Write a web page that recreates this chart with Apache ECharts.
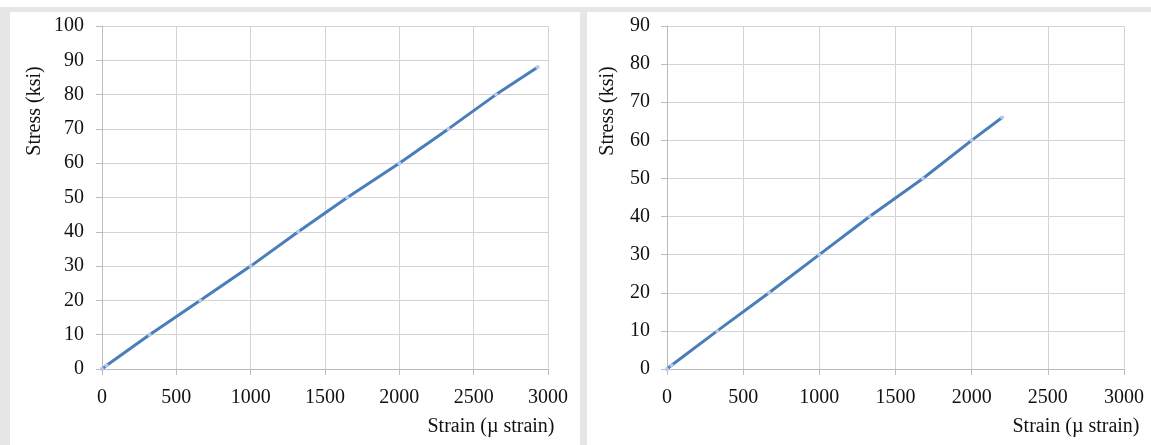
<!DOCTYPE html>
<html>
<head>
<meta charset="utf-8">
<script src="https://cdn.jsdelivr.net/npm/echarts@6/dist/echarts.min.js"></script>
<style>
  html, body { margin: 0; padding: 0; background: #ffffff; }
  #main { width: 1151px; height: 445px; }
</style>
</head>
<body>
<div id="main"></div>
<script>
// left panel: strain (µ strain) vs stress (ksi)
var leftStrain = [0, 30, 320, 660, 1000, 1320, 1650, 2000, 2330, 2650, 2930];
var leftStress = [0, 1, 10, 20, 30, 40, 50, 60, 70, 80, 88];
// right panel
var rightStrain = [0, 30, 330, 670, 1000, 1330, 1680, 2000, 2200];
var rightStress = [0, 1, 10, 20, 30, 40, 50, 60, 66];

var xTicks = { min: 0, max: 3000, interval: 500 };
var leftY = { min: 0, max: 100, interval: 10 };
var rightY = { min: 0, max: 90, interval: 10 };

var xTitle = 'Strain (\u00b5 strain)';
var yTitle = 'Stress (ksi)';

var font = '"Liberation Serif", "Times New Roman", serif';
var textColor = '#111111';
var lineColor = '#4a7ebb';
var gridColor = '#d4d4d4';
var axisColor = '#bcbcbc';
var bandColor = '#e6e6e6';

function pairs(xs, ys) {
	var out = [];
	for (var i = 0; i < xs.length; i++) {
		out.push([xs[i], ys[i]]);
	}
	return out;
}

// plain numbers, no thousands separator
function plain(v) {
	return String(v);
}

function makeX(idx) {
	return {
		gridIndex: idx,
		type: 'value',
		min: xTicks.min,
		max: xTicks.max,
		interval: xTicks.interval,
		axisLine: { show: true, lineStyle: { color: axisColor, width: 1 } },
		axisTick: { show: true, length: 6, lineStyle: { color: axisColor } },
		splitLine: { show: true, lineStyle: { color: gridColor, width: 1 } },
		axisLabel: { margin: 19, color: textColor, fontFamily: font, fontSize: 20, formatter: plain }
	};
}

function makeY(idx, range, gap) {
	return {
		gridIndex: idx,
		type: 'value',
		min: range.min,
		max: range.max,
		interval: range.interval,
		axisLine: { show: true, lineStyle: { color: axisColor, width: 1 } },
		axisTick: { show: true, length: 6, lineStyle: { color: axisColor } },
		splitLine: { show: true, lineStyle: { color: gridColor, width: 1 } },
		axisLabel: { margin: gap, color: textColor, fontFamily: font, fontSize: 20, formatter: plain }
	};
}

function makeSeries(idx, xs, ys) {
	return {
		type: 'line',
		xAxisIndex: idx,
		yAxisIndex: idx,
		data: pairs(xs, ys),
		showSymbol: true,
		symbol: 'circle',
		symbolSize: 4,
		itemStyle: { color: '#b3c9e5' },
		lineStyle: { color: lineColor, width: 3 },
		animation: false,
		z: 3
	};
}

function titleText(x, y, text, rot) {
	return {
		type: 'text',
		x: x,
		y: y,
		rotation: rot,
		style: {
			text: text,
			fill: textColor,
			font: '20px ' + font,
			align: 'center',
			verticalAlign: 'middle'
		}
	};
}

var myChart = echarts.init(document.getElementById('main'), null, { renderer: 'canvas' });

myChart.setOption({
	backgroundColor: '#ffffff',
	animation: false,
	grid: [
		{ left: 102, top: 26, width: 446, height: 343 },
		{ left: 667, top: 26, width: 457, height: 343 }
	],
	xAxis: [makeX(0), makeX(1)],
	yAxis: [makeY(0, leftY, 18), makeY(1, rightY, 17)],
	series: [
		makeSeries(0, leftStrain, leftStress),
		makeSeries(1, rightStrain, rightStress)
	],
	graphic: [
		// screenshot frame bands
		{ type: 'rect', shape: { x: 0, y: 7, width: 1151, height: 5 }, style: { fill: bandColor }, silent: true },
		{ type: 'rect', shape: { x: 0, y: 7, width: 10, height: 438 }, style: { fill: bandColor }, silent: true },
		{ type: 'rect', shape: { x: 580, y: 7, width: 7, height: 438 }, style: { fill: bandColor }, silent: true },
		titleText(35, 111, yTitle, Math.PI / 2),
		titleText(608, 111, yTitle, Math.PI / 2),
		titleText(491, 427, xTitle, 0),
		titleText(1076, 427, xTitle, 0)
	]
});
</script>
</body>
</html>
